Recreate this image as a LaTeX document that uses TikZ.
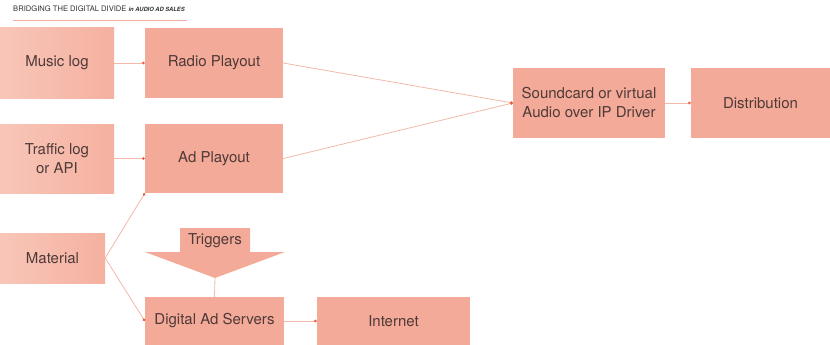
\documentclass[tikz,border=0pt]{standalone}
\usepackage{fontspec}
\setmainfont{TeX Gyre Heros}
\usepackage{tikz}
\usetikzlibrary{arrows.meta}
\definecolor{boxsalmon}{RGB}{244,170,152}
\definecolor{boxlight}{RGB}{248,198,184}
\definecolor{linesalmon}{RGB}{243,184,170}
\definecolor{tipred}{RGB}{236,96,66}
\definecolor{textdark}{RGB}{78,58,56}
\definecolor{headgray}{RGB}{45,52,48}

\begin{document}
\begin{tikzpicture}[x=1pt, y=-1pt,
  >={Circle[length=2.8pt, color=tipred]},
  box/.style={fill=boxsalmon, text=textdark, font=\fontsize{15}{19}\selectfont,
    align=center, inner sep=0pt},
  lightbox/.style={box, left color=boxlight, right color=boxsalmon!92!white},
  link/.style={->, linesalmon, line width=0.8pt}]

\useasboundingbox (0,0) rectangle (830,345);

% header
\node[anchor=west, headgray, inner sep=0pt] (head) at (13,9)
  {\fontsize{7.6}{8}\selectfont BRIDGING THE DIGITAL DIVIDE
   {\fontsize{5.8}{6}\selectfont\bfseries\itshape in AUDIO AD SALES}};
\coordinate (rulea) at (13,21);
\coordinate (ruleb) at (187,21);
\draw[linesalmon!90!tipred, line width=1pt] (rulea) -- (ruleb);

% boxes
\node[lightbox, minimum width=114pt, minimum height=70pt] (music) at (57,63) {Music log};
\node[box, minimum width=138pt, minimum height=70pt] (radio) at (214,63) {Radio Playout};
\node[lightbox, minimum width=114pt, minimum height=69pt] (traffic) at (57,158.5) {Traffic log\\or API};
\node[box, minimum width=138pt, minimum height=69pt] (ad) at (214,158.5) {Ad Playout};
\node[lightbox, minimum width=105pt, minimum height=50pt] (material) at (52.5,258) {Material};
\node[box, minimum width=139pt, minimum height=48pt] (servers) at (214.5,321) {Digital Ad Servers};
\node[box, minimum width=153pt, minimum height=48pt] (internet) at (393.5,321) {Internet};
\node[box, minimum width=152pt, minimum height=70pt] (sound) at (589,103) {Soundcard or virtual\\Audio over IP Driver};
\node[box, minimum width=139pt, minimum height=70pt] (dist) at (760.5,103) {Distribution};

% triggers arrow
\fill[boxsalmon] (180,228) -- (250,228) -- (250,252) -- (285,252) -- (215,278)
  -- (145,252) -- (180,252) -- cycle;
\node[text=textdark, font=\fontsize{15}{19}\selectfont] (trig) at (215,241) {Triggers};
\coordinate (trigtip) at (215,278);

% connectors
\draw[link] (music) -- (radio);
\draw[link] (traffic) -- (ad);
\draw[link] (radio.east) -- (sound.west);
\draw[link] (ad.east) -- (sound.west);
\draw[link] (sound) -- (dist);
\draw[link] (material.east) -- (ad.south west);
\draw[link] (material.east) -- (servers.west);
\draw[link] (servers) -- (internet);
\draw[linesalmon, line width=0.8pt] (trigtip) -- (servers.north);

\end{tikzpicture}
\end{document}
